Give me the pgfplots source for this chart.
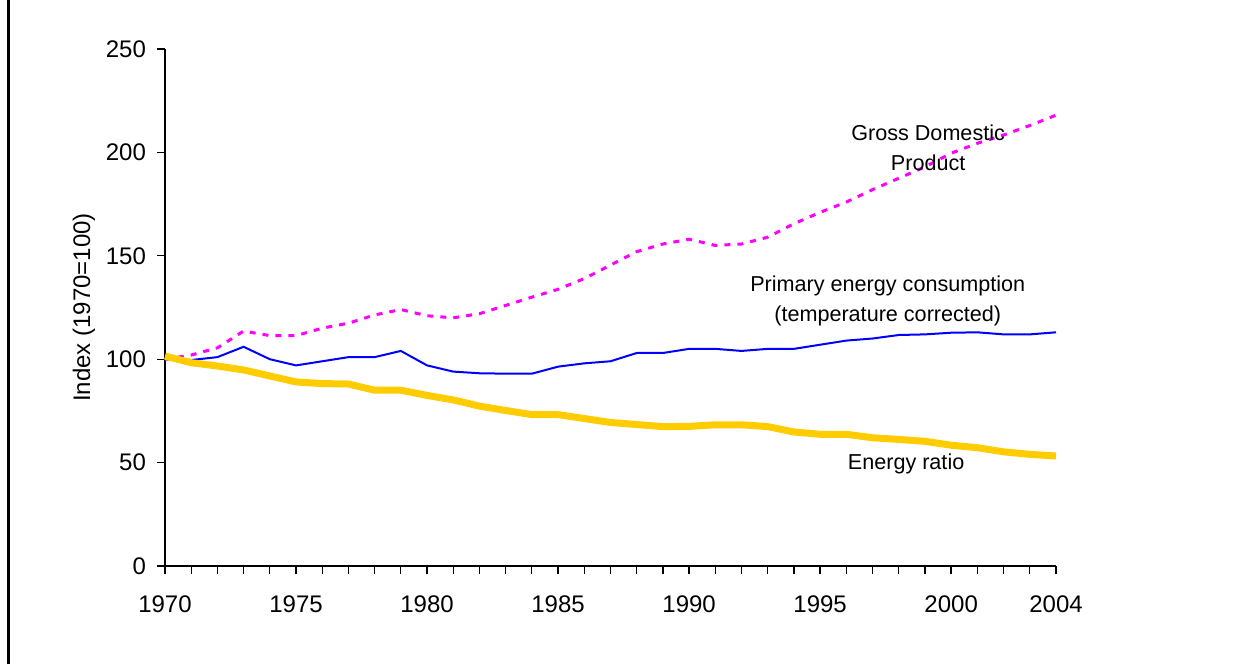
\documentclass[border=0pt]{standalone}
\usepackage{fontspec}
\setmainfont{Liberation Sans}
\usepackage{pgfplots}
\pgfplotsset{compat=1.18}

\definecolor{gdp}{HTML}{FF00FF}
\definecolor{pec}{HTML}{0000FF}
\definecolor{ratio}{HTML}{FFCC00}

\begin{document}
\begin{tikzpicture}
\useasboundingbox (-82.5pt,-49pt) rectangle (540.5pt,283pt);
\draw[line width=1.35pt] (-78.4pt,-49pt) -- (-78.4pt,283pt);
\begin{axis}[
    scale only axis,
    width=445.5pt, height=258.5pt,
    xmin=1970, xmax=2004,
    ymin=0, ymax=250,
    axis lines=left,
    axis line style={line width=0.65pt, -},
    tick style={line width=0.65pt, black},
    tick align=outside,
    major tick length=4pt,
    minor tick length=4pt,
    xtick={1970,1975,1980,1985,1990,1995,2000,2004},
    minor xtick={1970,...,2004},
    ytick={0,50,...,250},
    xticklabel style={/pgf/number format/1000 sep={}, yshift=-7.5pt},
    yticklabel style={xshift=-2pt},
    /pgf/number format/assume math mode=true,
    ticklabel style={font=\fontsize{12}{14}\selectfont},
    ylabel={Index (1970=100)},
    ylabel style={font=\fontsize{12}{14}\selectfont, yshift=-1.5pt},
    clip=false,
]
\addplot[color=gdp, line width=1.5pt, dash pattern=on 3pt off 3.5pt] coordinates {
(1970,100) (1971,102) (1972,105.5) (1973,113.6) (1974,111.4) (1975,111.4)
(1976,115) (1977,117.4) (1978,121.4) (1979,124) (1980,121) (1981,120)
(1982,122) (1983,126) (1984,130) (1985,133.8) (1986,139) (1987,145.5)
(1988,152) (1989,155.7) (1990,158) (1991,155) (1992,155.7) (1993,159)
(1994,165.5) (1995,171) (1996,176) (1997,182) (1998,187.5) (1999,193)
(2000,199.6) (2001,204.4) (2002,208.4) (2003,213) (2004,218)
};
\addplot[color=pec, line width=1pt] coordinates {
(1970,100) (1971,99.6) (1972,101) (1973,106) (1974,100) (1975,97)
(1976,99) (1977,101) (1978,101) (1979,104) (1980,97) (1981,94)
(1982,93.2) (1983,93) (1984,93) (1985,96.4) (1986,98) (1987,99)
(1988,103) (1989,103) (1990,105) (1991,105) (1992,104) (1993,105)
(1994,105) (1995,107) (1996,109) (1997,110) (1998,111.7) (1999,112)
(2000,112.8) (2001,113) (2002,112) (2003,112) (2004,113)
};
\addplot[color=ratio, line width=3.5pt] coordinates {
(1970,101.5) (1971,98.3) (1972,96.7) (1973,94.8) (1974,91.9) (1975,89)
(1976,88.2) (1977,88) (1978,85) (1979,85) (1980,82.5) (1981,80.3)
(1982,77.3) (1983,75.2) (1984,73.2) (1985,73.2) (1986,71.3) (1987,69.4)
(1988,68.4) (1989,67.4) (1990,67.5) (1991,68.3) (1992,68.3) (1993,67.4)
(1994,64.8) (1995,63.7) (1996,63.7) (1997,62) (1998,61.2) (1999,60.3)
(2000,58.4) (2001,57.2) (2002,55.2) (2003,54) (2004,53.2)
};
\node[align=center, font=\fontsize{10.8}{15}\selectfont] at (axis cs:1999.12,202.1) {Gross Domestic\\Product};
\node[align=center, font=\fontsize{10.8}{15}\selectfont] at (axis cs:1997.58,128.1) {Primary energy consumption\\(temperature corrected)};
\node[align=center, font=\fontsize{10.8}{15}\selectfont] at (axis cs:1998.28,49.3) {Energy ratio};
\end{axis}
\end{tikzpicture}
\end{document}
